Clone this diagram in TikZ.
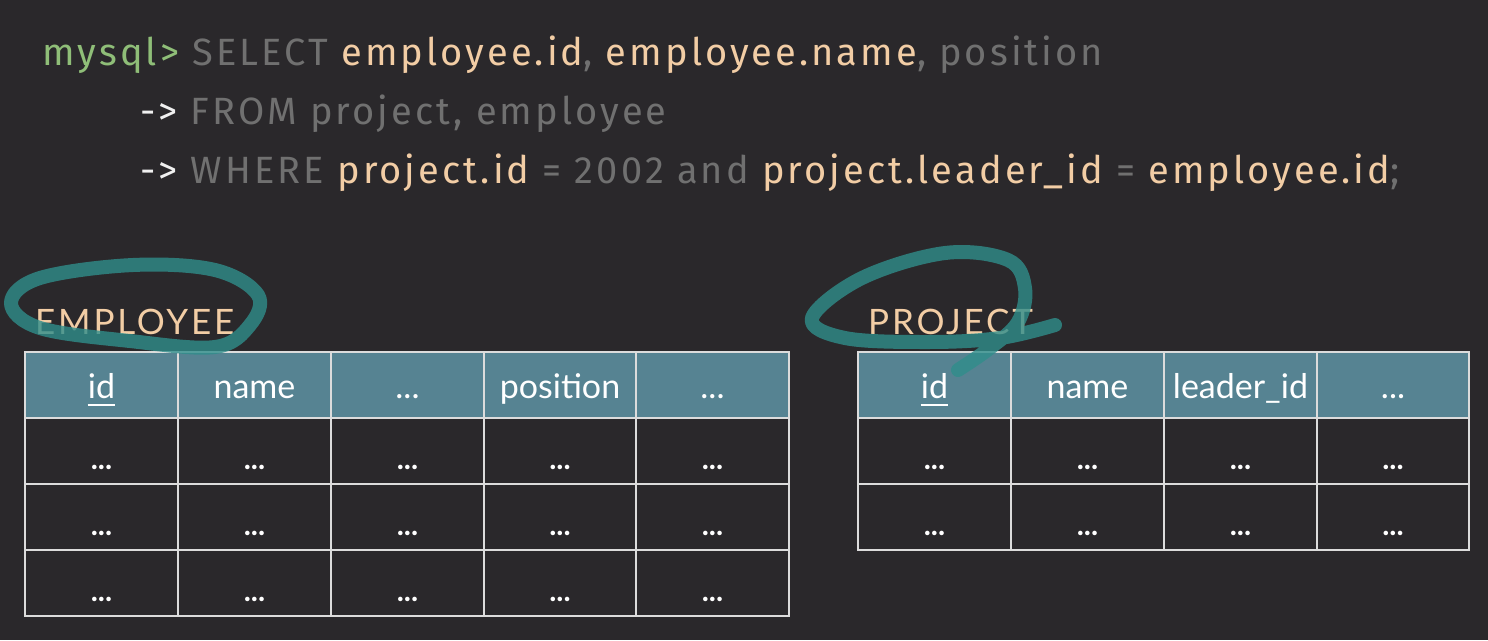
\documentclass[tikz,border=0pt]{standalone}
\usepackage{fontspec}
\setmainfont{Lato}
\newfontfamily\sqlfont[LetterSpace=8.2]{Fira Sans}
\newfontfamily\tabfont{Lato}
\newfontfamily\titlefont[LetterSpace=8]{Lato}
\definecolor{bg}{RGB}{42,40,43}
\definecolor{hdr}{RGB}{86,131,146}
\definecolor{gridc}{RGB}{220,220,220}
\definecolor{sqlgreen}{RGB}{143,190,120}
\definecolor{kw}{RGB}{112,112,112}
\definecolor{peach}{RGB}{242,205,165}
\definecolor{arr}{RGB}{240,240,240}
\definecolor{ink}{RGB}{48,142,139}
\tikzset{
  sqlline/.style={anchor=base west, inner sep=0pt, font=\sqlfont\fontsize{38}{38}\selectfont},
  hcell/.style={anchor=base, inner sep=0pt, text=white, font=\tabfont\fontsize{34}{34}\selectfont},
  dcell/.style={anchor=base, inner sep=0pt, text=white, font=\tabfont\bfseries\fontsize{30}{30}\selectfont},
  ttl/.style={anchor=base west, inner sep=0pt, text=peach, font=\titlefont\fontsize{35}{35}\selectfont},
  gridline/.style={draw=gridc, line width=2.5pt},
  inkstroke/.style={draw=ink, draw opacity=0.8, line width=14pt, line cap=round, line join=round}
}
\begin{document}
\begin{tikzpicture}[x=1pt,y=-1pt]
\fill[bg] (0,0) rectangle (1488,640);
\useasboundingbox (0,0) rectangle (1488,640);

% SQL
\node[sqlline] (l1) at (42,65) {\color{sqlgreen}mysql> \color{kw}SELECT \color{peach}employee.id\color{kw}, \color{peach}employee.name\color{kw}, position};
\node[sqlline] (l2) at (140,124) {\color{arr}-> \color{kw}FROM project, employee};
\node[sqlline] (l3) at (140,183) {\color{arr}-> \color{kw}WHERE \color{peach}project.id \color{kw}= 2002 and \color{peach}project.leader\_id \color{kw}= \color{peach}employee.id\color{kw};};

% titles
\node[ttl] (tE) at (35,334) {EMPLOYEE};
\node[ttl] (tP) at (868,334) {PROJECT};

% EMPLOYEE table
\fill[hdr] (25,352) rectangle (789,418);
\foreach \x in {178,331,484,636} \draw[gridline] (\x,352) -- (\x,616);
\foreach \y in {418,484,550} \draw[gridline] (25,\y) -- (789,\y);
\draw[gridline] (25,352) rectangle (789,616);
\node[hcell] (eh1) at (101.5,398) {id};
\draw[white, line width=2.5pt] ([yshift=-7pt]eh1.base west) -- ([yshift=-7pt]eh1.base east);
\node[hcell] (eh2) at (254.5,398) {name};
\node[hcell] (eh3) at (407.5,398) {...};
\node[hcell] (eh4) at (560,398) {position};
\node[hcell] (eh5) at (712.5,398) {...};
\foreach \r/\yb in {1/469,2/535,3/601}
  \foreach \c/\xc in {1/101.5,2/254.5,3/407.5,4/560,5/712.5}
    \node[dcell] (e\r\c) at (\xc,\yb) {...};

% PROJECT table
\fill[hdr] (858,352) rectangle (1469,418);
\foreach \x in {1011,1164,1317} \draw[gridline] (\x,352) -- (\x,550);
\foreach \y in {418,484} \draw[gridline] (858,\y) -- (1469,\y);
\draw[gridline] (858,352) rectangle (1469,550);
\node[hcell] (ph1) at (934.5,398) {id};
\draw[white, line width=2.5pt] ([yshift=-7pt]ph1.base west) -- ([yshift=-7pt]ph1.base east);
\node[hcell] (ph2) at (1087.5,398) {name};
\node[hcell] (ph3) at (1240.5,398) {leader\_id};
\node[hcell] (ph4) at (1393,398) {...};
\foreach \r/\yb in {1/469,2/535}
  \foreach \c/\xc in {1/934.5,2/1087.5,3/1240.5,4/1393}
    \node[dcell] (p\r\c) at (\xc,\yb) {...};

% hand-drawn marks
\draw[inkstroke] plot[smooth cycle, tension=0.6] coordinates {(11,303) (40,278) (133,265) (215,270) (258,295) (250,325) (215,347) (130,341) (40,328)};
\draw[inkstroke] plot[smooth, tension=0.6] coordinates {(1055,325) (1000,338) (928,342) (845,338) (812,318) (862,278) (945,253) (1008,260) (1025,288) (1018,322) (990,348) (958,370)};
\end{tikzpicture}
\end{document}
